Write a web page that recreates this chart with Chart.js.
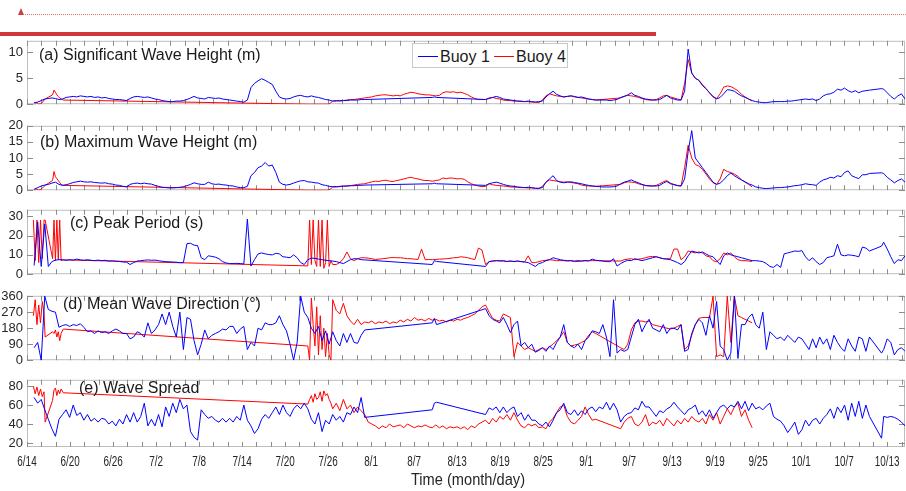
<!DOCTYPE html>
<html>
<head>
<meta charset="utf-8">
<title>Buoy 1 / Buoy 4 wave parameters</title>
<script src="https://cdn.jsdelivr.net/npm/chart.js@4.4.1/dist/chart.umd.min.js"></script>
<style>
  body { margin: 0; background: #fff; }
  #page { position: relative; width: 906px; height: 491px; overflow: hidden;
          font-family: "Liberation Sans", Arial, sans-serif; color: #1a1a1a; }
  #page canvas { position: absolute; left: 0; }
  .tri { position: absolute; left: 18px; top: 8px; width: 0; height: 0;
         border-left: 3.5px solid transparent; border-right: 3.5px solid transparent;
         border-bottom: 7px solid #d23c3c; }
  .dots { position: absolute; left: 25px; top: 14px; width: 881px; border-top: 1px dotted #e07070; }
  .bar { position: absolute; left: 0; top: 32px; width: 656px; height: 4px; background: #d0363c; }
  .ptitle { position: absolute; font-size: 16px; line-height: 18px; white-space: nowrap; z-index: 2; }
  #legend { position: absolute; left: 412px; top: 43px; width: 154px; height: 23px;
            border: 1px solid #c8c8c8; background: #fff; z-index: 3; font-size: 16px; }
  #legend .sw { position: absolute; top: 12px; width: 20px; height: 1px; }
  #legend .lt { position: absolute; top: 1px; line-height: 24px; white-space: nowrap; }
  .xtitle { position: absolute; left: 368px; width: 200px; top: 470px; text-align: center;
            font-size: 17px; line-height: 20px; color: #262626; transform: scaleX(0.86); }
</style>
</head>
<body>
<div id="page">
  <div class="tri"></div>
  <div class="dots"></div>
  <div class="bar"></div>

  <canvas id="panelA"></canvas>
  <canvas id="panelB"></canvas>
  <canvas id="panelC"></canvas>
  <canvas id="panelD"></canvas>
  <canvas id="panelE"></canvas>

  <div class="ptitle" style="left:39px; top:46px">(a) Significant Wave Height (m)</div>
  <div class="ptitle" style="left:40px; top:133px">(b) Maximum Wave Height (m)</div>
  <div class="ptitle" style="left:70px; top:214px">(c) Peak Period (s)</div>
  <div class="ptitle" style="left:63px; top:295px">(d) Mean Wave Direction (°)</div>
  <div class="ptitle" style="left:79px; top:379px">(e) Wave Spread</div>

  <div id="legend">
    <span class="sw" style="left:5px; background:#0000ff"></span><span class="lt" style="left:27px">Buoy 1</span>
    <span class="sw" style="left:81px; background:#ff0000"></span><span class="lt" style="left:103px">Buoy 4</span>
  </div>

  <div class="xtitle">Time (month/day)</div>
</div>

<script>
// x tick labels (one every 121/20 days from 6/14 00:00)
const tickLabels = ["6/14", "6/20", "6/26", "7/2", "7/8", "7/14", "7/20", "7/26", "8/1", "8/7",
  "8/13", "8/19", "8/25", "9/1", "9/7", "9/13", "9/19", "9/25", "10/1", "10/7", "10/13"];

// y tick values per panel
const hsTicks = [0, 5, 10];
const hmaxTicks = [0, 5, 10, 15, 20];
const tpTicks = [0, 10, 20, 30];
const dirTicks = [0, 90, 180, 270, 360];
const spreadTicks = [20, 40, 60, 80];

// Buoy 1 (blue) - days since 6/14
const buoy1Days = [1, 1.5, 2, 2.5, 3, 3.5, 4, 4.5, 5, 5.5,
  6, 6.5, 7, 7.5, 8, 8.5, 9, 9.5, 10, 10.5,
  11, 11.5, 12, 12.5, 13, 13.5, 14, 14.5, 15, 15.5,
  16, 16.5, 17, 17.5, 18, 18.5, 19, 19.5, 20, 20.5,
  21, 21.5, 22, 22.5, 23, 23.5, 24, 24.5, 25, 25.5,
  26, 26.5, 27, 27.5, 28, 28.5, 29, 29.5, 30, 30.5,
  31, 31.5, 32, 32.5, 33, 33.5, 34, 34.5, 35, 35.5,
  36, 36.5, 37, 37.5, 38, 38.5, 39, 39.5, 40, 40.5,
  41, 41.5, 42, 42.5, 43, 43.5, 44, 44.5, 45, 45.5,
  46, 46.5, 47, 47.5,
  57, 57.3, 57.6,
  64.5, 65, 65.5, 66, 66.5, 67, 67.5, 68, 68.5, 69,
  69.5, 70, 70.5, 71, 71.5, 72, 72.5, 73, 73.5, 74,
  74.5, 75, 75.5, 76, 76.5, 77, 77.5, 78, 78.5, 79,
  79.5, 80, 80.5, 81, 81.5, 82, 82.5, 83, 83.5, 84,
  84.5, 85, 85.5, 86, 86.5, 87, 87.5, 88, 88.5, 89,
  89.5, 90, 90.5, 91, 91.5, 92, 92.5, 93, 93.5, 94,
  94.5, 95, 95.5, 96, 96.5, 97, 97.5, 98, 98.5, 99,
  99.5, 100, 100.5, 101, 101.5, 102, 102.5, 103, 103.5, 104,
  104.5, 105, 105.5, 106, 106.5, 107, 107.5, 108, 108.5, 109,
  109.5, 110, 110.5, 111, 111.5, 112, 112.5, 113, 113.5, 114,
  114.5, 115, 115.5, 116, 116.5, 117, 117.5, 118, 118.5,
  120.2, 120.5, 121, 121.5, 122, 122.5, 123, 123.5];

const buoy1Hs = [0.3, 0.4, 0.7, 1.0, 1.1, 1.2, 1.1, 0.9, 1.0, 1.3,
  1.4, 1.5, 1.4, 1.6, 1.5, 1.4, 1.5, 1.3, 1.4, 1.2,
  1.3, 1.1, 1.0, 0.9, 0.9, 0.8, 0.7, 1.1, 1.4, 1.5,
  1.4, 1.3, 1.4, 1.2, 1.0, 0.9, 0.7, 0.6, 0.5, 0.5,
  0.6, 0.6, 0.7, 0.9, 1.2, 1.5, 1.2, 1.1, 1.0, 1.3,
  1.2, 1.1, 1.2, 1.0, 0.9, 0.8, 0.7, 0.6, 0.5, 0.4,
  0.8, 3.2, 4.0, 4.5, 4.9, 4.6, 4.2, 3.8, 2.5, 1.4,
  1.1, 1.0, 1.1, 1.4, 1.6, 1.7, 1.5, 1.4, 1.6, 1.4,
  1.3, 1.1, 0.9, 0.8, 0.6, 0.7, 0.6, 0.7, 0.7, 0.8,
  0.8, 0.8, 0.9, 0.9,
  1.3, 1.4, 1.3,
  0.9, 1.1, 1.3, 1.5, 1.3, 1.0, 0.9, 0.8, 0.7, 0.6,
  0.6, 0.5, 0.6, 0.5, 0.4, 0.5, 0.6, 1.4, 2.0, 2.5,
  1.9, 1.6, 1.4, 1.5, 1.6, 1.5, 1.3, 1.4, 1.2, 1.0,
  0.9, 0.8, 0.8, 0.8, 0.8, 0.7, 0.8, 0.9, 1.3, 1.5,
  1.8, 2.2, 1.7, 1.5, 1.2, 1.0, 0.9, 0.8, 0.8, 0.9,
  1.3, 1.7, 1.2, 1.0, 0.8, 0.8, 2.5, 10.6, 6.0, 5.0,
  4.6, 3.6, 3.0, 2.2, 1.4, 1.0, 1.3, 2.0, 2.8, 2.7,
  2.5, 2.0, 1.6, 1.3, 1.0, 0.7, 0.5, 0.4, 0.3, 0.3,
  0.4, 0.5, 0.5, 0.5, 0.5, 0.6, 0.6, 0.7, 0.8, 0.9,
  1.0, 0.9, 1.0, 0.7, 1.0, 1.6, 1.9, 2.0, 2.3, 2.9,
  2.7, 3.1, 2.6, 2.3, 2.6, 2.2, 2.5, 2.6, 2.7,
  3.0, 2.9, 2.2, 1.5, 1.0, 1.6, 2.0, 1.0];

const buoy1Hmax = [0.3, 0.8, 1.3, 1.6, 1.8, 2.2, 2.5, 1.8, 1.5, 1.7,
  2.0, 2.4, 2.6, 2.8, 2.6, 2.5, 2.6, 2.4, 2.3, 2.2,
  2.3, 2.0, 1.9, 1.6, 1.5, 1.2, 1.0, 1.8, 2.1, 2.2,
  2.0, 2.2, 2.0, 1.9, 1.5, 1.2, 0.9, 0.8, 0.7, 0.7,
  0.8, 0.9, 1.1, 1.4, 1.8, 2.3, 2.0, 1.8, 1.8, 2.5,
  2.0, 1.8, 1.9, 1.7, 1.6, 1.4, 1.3, 1.0, 0.8, 0.8,
  1.2, 4.5, 5.5, 7.0, 7.5, 8.6, 7.5, 7.8, 5.5, 2.5,
  1.8, 1.6, 1.8, 2.2, 2.6, 2.9, 3.0, 2.6, 2.5, 2.3,
  2.2, 1.7, 1.5, 1.2, 1.1, 1.1, 1.2, 1.3, 1.3, 1.4,
  1.4, 1.5, 1.5, 1.6,
  2.0, 2.2, 2.0,
  1.5, 2.0, 2.3, 2.5, 2.2, 1.8, 1.5, 1.3, 1.2, 1.0,
  0.9, 0.8, 0.9, 0.8, 0.6, 0.6, 0.8, 2.5, 3.5, 4.5,
  3.0, 2.5, 2.3, 2.5, 2.6, 2.4, 2.2, 2.0, 1.7, 1.5,
  1.3, 1.2, 1.1, 1.0, 1.0, 1.0, 1.1, 1.3, 2.0, 2.5,
  2.8, 3.2, 2.7, 2.3, 1.8, 1.5, 1.4, 1.3, 1.3, 1.5,
  2.2, 2.7, 2.0, 1.7, 1.4, 1.3, 3.5, 12.0, 18.5, 10.0,
  8.5, 7.0, 5.5, 4.0, 2.5, 1.8, 2.2, 3.2, 4.5, 5.3,
  4.5, 3.8, 3.2, 2.6, 2.0, 1.6, 1.0, 0.8, 0.6, 0.5,
  0.6, 0.7, 0.8, 0.8, 0.9, 1.0, 1.2, 1.4, 1.5, 1.7,
  2.0, 1.8, 1.7, 1.5, 2.5, 3.2, 3.5, 4.0, 3.8, 4.5,
  4.2, 5.5, 6.0, 4.5, 4.0, 3.6, 4.8, 4.8, 5.2,
  5.4, 5.2, 4.0, 3.2, 2.3, 3.0, 3.5, 2.5];

const buoy1Tp = [4.5, 27, 4, 26, 4, 6.5, 7.3, 7.5, 7.5, 7.2,
  7.5, 7.3, 7.8, 7.4, 7.2, 7.5, 7.2, 7.0, 7.3, 7.0,
  7.2, 6.8, 6.9, 6.7, 6.6, 6.3, 6.2, 5.0, 6.0, 6.8,
  7.0, 7.2, 7.4, 7.2, 7.3, 7.0, 6.7, 6.5, 6.4, 6.3,
  6.2, 6.0, 6.0, 15.8, 16.0, 15.0, 14.8, 8.5, 7.5, 9.5,
  9.2, 8.8, 8.0, 6.5, 5.8, 5.5, 5.5, 5.6, 5.5, 5.3,
  28.5, 4.2, 7.5, 10.5, 11.0, 10.5, 10.2, 10.0, 10.8, 10.5,
  9.0, 8.8, 8.5, 10.0, 8.5, 6.0, 5.0, 7.5, 8.3, 8.2,
  7.8, 7.5, 7.2, 7.0, 6.8, 6.5, 6.0, 5.5, 6.5, 7.5,
  8.0, 8.0, 7.5, 7.4,
  5.0, 7.0, 6.6,
  4.0, 6.5, 6.8, 7.0, 6.8, 7.0, 6.6, 6.8, 6.5, 6.8,
  6.5, 6.3, 6.0, 5.0, 4.0, 5.5, 6.0, 7.0, 7.5, 8.5,
  8.0, 7.5, 7.2, 7.0, 7.0, 6.8, 7.0, 6.8, 7.0, 6.8,
  7.8, 7.2, 7.0, 6.8, 6.5, 6.5, 8.0, 4.2, 5.5, 6.5,
  7.2, 7.0, 8.0, 7.5, 7.0, 7.5, 8.0, 8.5, 9.0, 8.5,
  8.0, 7.8, 7.5, 6.8, 6.0, 5.0, 6.5, 9.5, 12.0, 11.5,
  11.0, 11.5, 10.5, 9.5, 9.0, 7.0, 5.0, 9.5, 11.0, 10.0,
  9.5, 9.0, 8.5, 8.0, 7.5, 7.0, 7.0, 6.8, 6.5, 5.5,
  4.0, 3.5, 5.0, 3.5, 10.5, 11.0, 11.5, 12.0, 11.8, 12.2,
  9.0, 7.0, 8.5, 6.5, 5.0, 6.0, 8.5, 9.0, 9.5, 15.5,
  10.0, 9.5, 10.0, 9.8, 9.5, 9.0, 14.0, 13.5, 12.0,
  14.5, 16.5, 13.0, 9.0, 5.5, 7.5, 7.0, 9.5];

const buoy1Dir = [70, 100, 0, 360, 285, 275, 270, 185, 195, 200,
  190, 200, 195, 205, 185, 160, 165, 150, 165, 155,
  160, 150, 165, 175, 165, 150, 150, 120, 130, 160,
  150, 130, 210, 150, 170, 200, 260, 200, 270, 190,
  130, 270, 60, 240, 230, 110, 30, 90, 170, 120,
  140, 150, 160, 175, 170, 190, 190, 150, 175, 190,
  60, 100, 80, 180, 170, 210, 200, 200, 210, 250,
  200, 165, 90, 0, 100, 360, 270, 240, 180, 150,
  190, 110, 165, 90, 160, 110, 80, 150, 100, 150,
  100, 95, 140, 170,
  210, 235, 200,
  290, 250, 230, 220, 210, 240, 200, 155, 200, 220,
  80, 100, 70, 90, 45, 55, 70, 50, 80, 60,
  100, 130, 200, 100, 80, 70, 90, 60, 110, 130,
  165, 160, 150, 200, 130, 20, 340, 40, 60, 50,
  60, 130, 200, 230, 160, 200, 230, 180, 170, 160,
  200, 150, 180, 180, 170, 200, 50, 60, 150, 200,
  230, 210, 140, 250, 180, 330, 80, 60, 0, 40,
  360, 10, 200, 200, 240, 260, 200, 180, 270, 60,
  160, 140, 120, 130, 110, 140, 120, 100, 130, 120,
  90, 60, 120, 70, 130, 90, 120, 60, 140, 100,
  70, 50, 120, 80, 50, 130, 120, 50, 130,
  40, 60, 120, 100, 30, 60, 70, 50];

const buoy1Spread = [68, 62, 66, 55, 45, 35, 27, 45, 50, 55,
  47, 60, 49, 52, 44, 50, 43, 46, 42, 46,
  45, 40, 43, 38, 45, 40, 50, 42, 52, 42,
  48, 62, 38, 45, 38, 50, 37, 58, 48, 62,
  52, 66, 56, 60, 32, 26, 23, 55, 50, 46,
  48, 44, 42, 46, 42, 46, 42, 48, 44, 60,
  44, 38, 30, 35, 45, 50, 46, 52, 58, 50,
  60, 52, 48, 56, 60, 56, 62, 56, 45, 40,
  52, 32, 44, 40, 50, 44, 48, 42, 52, 50,
  58, 52, 68, 47,
  55, 62, 63,
  50, 57, 55, 58, 52, 58, 52, 56, 58, 48,
  52, 44, 50, 44, 44, 40, 38, 42, 37, 44,
  52, 55, 62, 52, 50, 55, 49, 54, 50, 56,
  58, 53, 58, 56, 63, 55, 62, 55, 42, 48,
  51, 52, 57, 55, 64, 58, 58, 53, 48, 54,
  52, 56, 58, 63, 58, 54, 50, 55, 57, 60,
  50, 54, 48, 55, 46, 52, 58, 60, 56, 60,
  58, 64, 56, 64, 54, 62, 56, 58, 55, 59,
  62, 48, 45, 43, 38, 31, 36, 42, 29, 34,
  44, 38, 44, 46, 40, 46, 50, 56, 46, 58,
  52, 60, 44, 62, 48, 64, 46, 60, 48,
  25, 48, 47, 48, 47, 45, 42, 38];

// Buoy 4 (red) - days since 6/14
const buoy4Days = [0.9, 1.15, 1.4, 1.65, 1.9, 2.15, 2.4, 2.55, 3.6, 3.8, 4, 4.2, 4.4, 4.6, 4.8, 5.1,
  39.5, 39.75, 40, 40.25, 40.5, 40.75, 41, 41.25, 41.5, 41.75, 42, 42.25, 42.5, 42.75, 43,
  43.5, 44, 44.5, 45, 45.5, 46, 46.5, 47, 47.5, 48,
  48.5, 49, 49.5, 50, 50.5, 51, 51.5, 52, 52.5, 53,
  53.5, 54, 54.5, 55, 55.5, 56, 56.5, 57, 57.5, 58,
  58.5, 59, 59.5, 60, 60.5, 61, 61.5, 62, 62.5, 63,
  63.5, 64, 64.5, 65, 65.5, 66, 66.5, 67, 67.5, 68,
  68.5, 69, 69.5, 70, 70.5, 71, 71.5, 72, 72.5, 73,
  73.5, 74, 74.5, 75, 75.5, 76, 76.5, 77, 77.5, 78,
  78.5, 79, 79.5, 80,
  83.5, 84, 84.5, 85, 85.5, 86, 86.5, 87, 87.5, 88,
  88.5, 89, 89.5, 90, 90.5, 91, 91.5, 92, 92.5, 93,
  93.5, 94, 94.5, 95, 95.5, 96, 96.5, 97, 97.5, 98,
  98.5, 99, 99.5, 100, 100.5, 101, 101.5, 102];

const buoy4Hs = [0, 0, 0.3, 0, 0.1, 0.3, 0.8, 1.0, 1.8, 2.7, 2.3, 1.8, 1.5, 1.2, 1.0, 0.8,
  0, 0, 0, 0, 0, 0, 0, 0, 0, 0, 0, 0, 0.05, 0.3, 0.6,
  0.6, 0.7, 0.7, 0.8, 0.9, 0.9, 1.0, 1.1, 1.2, 1.3,
  1.4, 1.6, 1.7, 1.8, 1.8, 1.7, 1.6, 1.7, 1.6, 1.9,
  2.1, 2.3, 2.2, 2.0, 1.9, 1.8, 1.8, 1.7, 1.6, 1.7,
  2.2, 2.4, 2.3, 2.4, 2.2, 2.3, 2.1, 1.8, 1.4, 1.1,
  0.9, 0.9, 0.9, 1.2, 1.3, 1.1, 1.0, 0.8, 0.7, 0.7,
  0.6, 0.6, 0.5, 0.5, 0.5, 0.4, 0.4, 0.3, 0.8, 1.6,
  2.0, 1.8, 1.6, 1.5, 1.4, 1.5, 1.6, 1.4, 1.3, 1.2,
  1.1, 1.0, 0.9, 0.8,
  1.2, 1.5, 1.7, 1.6, 1.5, 1.3, 1.1, 0.9, 0.8, 0.8,
  0.9, 1.2, 1.6, 1.7, 1.4, 1.2, 1.0, 0.8, 4.0, 8.6,
  6.0, 5.0, 4.6, 3.8, 3.0, 2.2, 1.5, 1.1, 2.0, 3.3,
  3.5, 3.4, 3.0, 2.6, 1.9, 1.4, 1.0, 0.6];

const buoy4Hmax = [0, 0, 0.4, 0, 0.2, 0.6, 1.2, 1.5, 3.0, 5.8, 4.2, 3.6, 3.0, 2.4, 1.8, 1.5,
  0, 0, 0, 0, 0, 0, 0, 0, 0, 0, 0, 0, 0.1, 0.5, 1.0,
  1.0, 1.1, 1.2, 1.3, 1.4, 1.6, 1.8, 1.9, 2.0, 2.3,
  2.6, 2.8, 2.7, 3.0, 3.1, 2.8, 2.7, 3.0, 3.2, 3.5,
  3.8, 4.0, 3.7, 3.5, 3.2, 3.0, 3.0, 2.8, 3.0, 3.2,
  3.8, 3.6, 3.8, 3.7, 3.5, 3.6, 3.4, 2.6, 2.0, 1.6,
  1.3, 1.1, 1.2, 2.0, 1.7, 1.5, 1.4, 1.3, 1.2, 1.0,
  1.0, 0.9, 0.8, 0.8, 0.7, 0.7, 0.6, 0.5, 1.2, 2.5,
  3.2, 3.0, 2.8, 2.6, 2.5, 2.6, 2.4, 2.2, 2.0, 1.6,
  1.4, 1.3, 1.3, 1.2,
  1.8, 2.3, 2.6, 2.5, 2.4, 2.0, 1.7, 1.4, 1.3, 1.3,
  1.5, 2.0, 2.6, 3.0, 2.2, 1.8, 1.5, 1.3, 7.0, 14.0,
  10.0, 8.0, 7.5, 6.5, 5.0, 3.5, 2.3, 1.8, 3.5, 6.5,
  5.8, 5.5, 5.0, 4.3, 3.2, 2.5, 1.8, 1.0];

const buoy4Tp = [28, 7, 28, 6, 28, 8, 28, 28, 8, 28, 7, 28, 7.5, 28, 7, 7.4,
  4.3, 28, 5, 28, 7, 4, 28, 4, 28, 3, 6, 28, 4, 7, 5,
  5.0, 6.0, 8.0, 11.5, 8.0, 7.0, 8.0, 8.5, 8.5, 8.3,
  8.0, 7.6, 7.8, 8.0, 8.2, 8.5, 8.6, 8.5, 8.5, 8.3,
  8.0, 8.0, 7.8, 7.6, 13.0, 7.5, 7.6, 7.5, 7.6, 7.8,
  7.9, 8.0, 8.2, 8.5, 8.6, 9.0, 8.8, 8.5, 8.0, 7.6,
  13.5, 12.5, 5.0, 6.5, 6.8, 7.0, 7.0, 6.8, 6.5, 6.8,
  6.6, 6.8, 6.5, 6.4, 9.5, 6.0, 6.0, 6.5, 7.0, 7.2,
  7.5, 7.3, 7.0, 7.0, 7.0, 6.8, 7.0, 6.5, 6.6, 6.8,
  7.0, 7.0, 7.0, 7.0,
  6.8, 7.5, 7.8, 8.0, 7.5, 7.8, 8.0, 8.5, 9.0, 9.2,
  9.0, 8.5, 8.0, 8.0, 8.0, 13.0, 13.0, 7.5, 9.0, 12.0,
  11.5, 11.0, 11.5, 11.0, 9.5, 9.0, 7.0, 6.5, 8.0, 11.0,
  10.0, 11.0, 9.0, 7.5, 7.0, 7.0, 6.8, 6.6];

const buoy4Dir = [250, 340, 200, 310, 210, 330, 260, 130, 160, 150, 170, 130, 160, 110, 150, 175,
  80, 0, 350, 200, 80, 300, 30, 250, 60, 180, 20, 150, 30, 0, 340,
  280, 260, 320, 250, 220, 200, 230, 200, 215, 210,
  220, 205, 215, 210, 220, 205, 215, 210, 225, 215,
  230, 220, 240, 225, 230, 220, 235, 225, 230, 220,
  225, 215, 225, 220, 230, 225, 235, 240, 250, 260,
  280, 300, 310, 270, 235, 225, 220, 260, 250, 240,
  20, 100, 80, 60, 70, 60, 50, 60, 70, 60,
  75, 90, 110, 130, 160, 100, 80, 85, 90, 100,
  110, 140, 160, 150,
  70, 60, 90, 170, 210, 220, 220, 215, 220, 200,
  195, 190, 185, 180, 175, 180, 190, 200, 60, 80,
  140, 200, 235, 240, 240, 240, 360, 20, 30, 20,
  360, 100, 360, 250, 240, 230, 220, 210];

const buoy4Spread = [80, 72, 79, 70, 77, 69, 74, 42, 65, 76, 78, 70, 76, 72, 77, 73,
  61, 66, 70, 63, 72, 66, 68, 74, 64, 75, 70, 72, 66, 62, 56,
  62, 54, 66, 56, 60, 52, 58, 54, 50, 42,
  40, 38, 35, 38, 36, 40, 37, 38, 39, 36,
  40, 38, 36, 38, 37, 39, 37, 36, 39, 36,
  38, 35, 37, 36, 37, 35, 37, 34, 38, 36,
  40, 42, 44, 40, 46, 42, 48, 45, 50, 44,
  52, 44, 38, 36, 40, 38, 40, 36, 37, 35,
  42, 46, 52, 58, 60, 48, 42, 40, 44, 48,
  58, 50, 44, 45,
  35, 42, 46, 48, 40, 38, 42, 50, 38, 42,
  40, 44, 38, 46, 42, 38, 44, 40, 46, 42,
  48, 44, 42, 46, 40, 50, 44, 52, 40, 48,
  56, 50, 58, 62, 48, 55, 44, 36];

Chart.defaults.font.family = "'Liberation Sans', Arial, sans-serif";

// box ticks along the time axis: three per labelled interval
const boxTickDays = Array.from({ length: 62 }, (_, k) => k * 121 / 60);
const labelDays = tickLabels.map((_, i) => (i * 121) / 20);

// frame + inward ticks like the original figure
const frameTicks = {
  id: "frameTicks",
  beforeDatasetsDraw(chart) {
    const { ctx, chartArea: a, scales } = chart;
    ctx.save();
    ctx.lineWidth = 1;
    ctx.strokeStyle = "#bdbdbd";
    ctx.strokeRect(a.left + 0.5, a.top + 0.5, a.width - 1, a.height - 1);
    ctx.strokeStyle = "#8c8c8c";
    ctx.beginPath();
    boxTickDays.forEach((d) => {
      const px = Math.round(scales.x.getPixelForValue(d)) + 0.5;
      if (px > a.right) return;
      ctx.moveTo(px, a.top);
      ctx.lineTo(px, a.top + 5);
      ctx.moveTo(px, a.bottom);
      ctx.lineTo(px, a.bottom - 5);
    });
    scales.y.ticks.forEach((t) => {
      const py = Math.round(scales.y.getPixelForValue(t.value)) + 0.5;
      ctx.moveTo(a.left, py);
      ctx.lineTo(a.left + 6, py);
      ctx.moveTo(a.right, py);
      ctx.lineTo(a.right - 6, py);
    });
    ctx.stroke();
    ctx.restore();
  },
};

// condensed month/day labels under the last panel
const timeLabels = {
  id: "timeLabels",
  afterDraw(chart, args, opts) {
    if (!opts.show) return;
    const { ctx, chartArea: a, scales } = chart;
    ctx.save();
    ctx.fillStyle = "#262626";
    ctx.font = "15px 'Liberation Sans', Arial, sans-serif";
    ctx.textAlign = "center";
    ctx.textBaseline = "middle";
    labelDays.forEach((d, i) => {
      ctx.save();
      ctx.translate(scales.x.getPixelForValue(d), a.bottom + 15);
      ctx.scale(0.66, 1);
      ctx.fillText(tickLabels[i], 0, 0);
      ctx.restore();
    });
    ctx.restore();
  },
};

function toPoints(days, values) {
  return days.map((d, i) => ({ x: d, y: values[i] }));
}

function makePanel(p) {
  const canvas = document.getElementById(p.id);
  const padTop = 8;
  const padBottom = p.showX ? 40 : 8;
  const h = p.bottom - p.top + padTop + padBottom;
  canvas.width = 906;
  canvas.height = h;
  canvas.style.width = "906px";
  canvas.style.height = h + "px";
  canvas.style.top = p.top - padTop + "px";

  new Chart(canvas, {
    type: "line",
    data: {
      datasets: [
        { label: "Buoy 1", data: toPoints(buoy1Days, p.blue), borderColor: "#0000ff",
          borderWidth: 1, pointRadius: 0, tension: 0 },
        { label: "Buoy 4", data: toPoints(buoy4Days, p.red), borderColor: "#ff0000",
          borderWidth: 1, pointRadius: 0, tension: 0 },
      ],
    },
    options: {
      responsive: false,
      animation: false,
      events: [],
      layout: { padding: { top: padTop, bottom: padBottom, left: 0, right: 1 } },
      plugins: {
        legend: { display: false },
        tooltip: { enabled: false },
        timeLabels: { show: !!p.showX },
      },
      scales: {
        x: {
          type: "linear",
          min: 0,
          max: 123.5,
          display: false,
        },
        y: {
          min: p.min,
          max: p.max,
          grid: { display: false, drawTicks: false },
          border: { display: false },
          afterBuildTicks: (s) => {
            s.ticks = p.yTicks.map((v) => ({ value: v }));
          },
          afterFit: (s) => {
            s.width = 27;
          },
          ticks: { autoSkip: false, padding: 4, color: "#262626", font: { size: 13 } },
        },
      },
    },
    plugins: [frameTicks, timeLabels],
  });
}

makePanel({ id: "panelA", top: 37, bottom: 108, min: 0, max: 12.2, yTicks: hsTicks, blue: buoy1Hs, red: buoy4Hs });
makePanel({ id: "panelB", top: 122, bottom: 194, min: 0, max: 20, yTicks: hmaxTicks, blue: buoy1Hmax, red: buoy4Hmax });
makePanel({ id: "panelC", top: 206, bottom: 278, min: 0, max: 33.3, yTicks: tpTicks, blue: buoy1Tp, red: buoy4Tp });
makePanel({ id: "panelD", top: 292, bottom: 364, min: 0, max: 362, yTicks: dirTicks, blue: buoy1Dir, red: buoy4Dir });
makePanel({ id: "panelE", top: 376, bottom: 447, min: 15.7, max: 86.7, yTicks: spreadTicks, blue: buoy1Spread, red: buoy4Spread, showX: true });
</script>
</body>
</html>
